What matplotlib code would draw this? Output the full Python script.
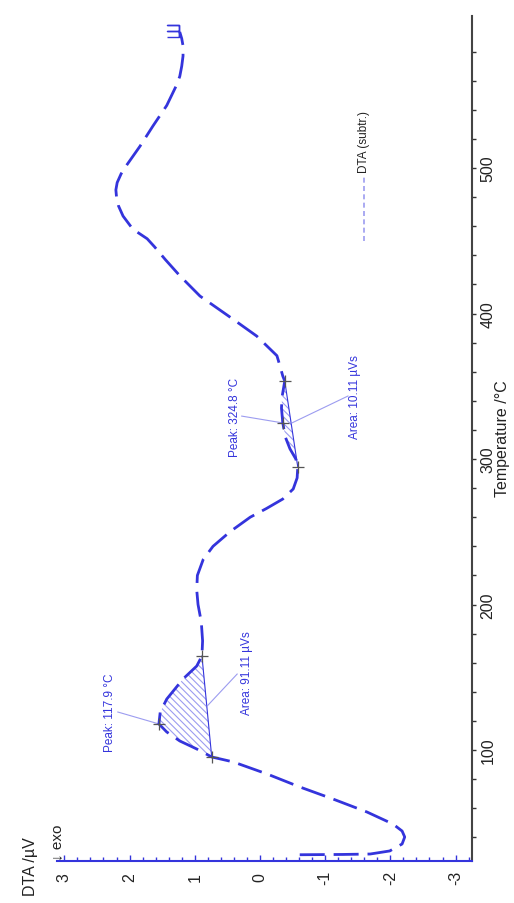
import numpy as np
import matplotlib.pyplot as plt
from matplotlib.path import Path
from matplotlib.ticker import MultipleLocator, FixedLocator

plt.rcParams['font.family'] = ['Liberation Sans', 'DejaVu Sans']
plt.rcParams['axes.unicode_minus'] = False
plt.rcParams['hatch.linewidth'] = 0.8

# DTA (subtracted) curve: temperature /°C and signal /µV
temp = [28.0, 28.2, 28.5, 30.6, 35.4, 40.2, 44.3, 49.1, 57.4, 66.3, 74.6, 83.5,
        91.8, 95.2, 100.7, 106.2, 112.4, 117.9, 126.0, 135.0, 148.8, 157.7,
        164.6, 175.0, 188.0, 200.0, 210.0, 220.0, 231.0, 240.0, 250.0, 260.0,
        266.0, 272.5, 279.4, 287.0, 294.5, 300.0, 307.0, 315.0, 324.8, 335.0,
        343.0, 353.6, 357.0, 365.0, 371.0, 384.5, 396.0, 412.0, 426.0, 437.0,
        446.0, 451.4, 458.0, 467.0, 474.0, 480.0, 485.0, 490.0, 496.0, 501.0,
        515.0, 529.0, 543.0, 556.0, 563.0, 570.0, 577.0, 584.0, 589.0, 593.5]
dta = [-0.61, -1.27, -1.69, -1.99, -2.18, -2.22, -2.18, -2.04, -1.64, -1.12,
       -0.61, -0.11, 0.41, 0.74, 0.97, 1.23, 1.43, 1.55, 1.53, 1.43, 1.18,
       0.97, 0.89, 0.88, 0.90, 0.95, 0.97, 0.96, 0.87, 0.72, 0.46, 0.15,
       -0.10, -0.35, -0.51, -0.57, -0.58, -0.55, -0.46, -0.39, -0.35, -0.33,
       -0.34, -0.38, -0.35, -0.30, -0.26, 0.05, 0.41, 0.92, 1.23, 1.45,
       1.62, 1.73, 1.95, 2.10, 2.17, 2.20, 2.21, 2.19, 2.13, 2.06,
       1.84, 1.64, 1.43, 1.29, 1.23, 1.20, 1.18, 1.18, 1.20, 1.23]

# evaluated effects: baseline limits (°C), baseline values (µV), peak
peak_limits = [[95.2, 164.6], [294.5, 353.6]]
peak_base = [[0.74, 0.89], [-0.58, -0.38]]
peak_temp = [117.9, 324.8]
peak_dta = [1.55, -0.35]
peak_area = [91.11, 10.11]

blue = '#3434dc'
light = '#9c9cf0'
grey = '#555555'

t = np.array(temp)
d = np.array(dta)

fig = plt.figure(figsize=(5.14, 9.04), dpi=100)
ax = fig.add_axes([57 / 514, 1 - 862 / 904, 415 / 514, 845 / 904])
ax.set_xlim(3.113, -3.252)
ax.set_ylim(23.7, 604.5)

ax.plot(d, t, color=blue, lw=2.0, dashes=(9, 3.2), zorder=3)

# end-of-curve marker
end_mark = Path([(1, -1), (1, 1), (-1, 1), (1, 1), (1, 0), (-1, 0), (1, 0),
                 (1, -1), (-1, -1)])
ax.plot(d[-1] + 0.1, t[-1] + 1, marker=end_mark, ms=9, mew=1.0,
        color=blue, mfc='none', zorder=4)

for (lo, hi), (b0, b1), pt, pd in zip(peak_limits, peak_base, peak_temp, peak_dta):
    seg = (t >= lo) & (t <= hi)
    base = np.interp(t[seg], [lo, hi], [b0, b1])
    ax.fill_betweenx(t[seg], d[seg], base, facecolor='none', edgecolor=light,
                     hatch='\\\\\\\\\\', linewidth=0, zorder=1)
    ax.plot([b0, b1], [lo, hi], color=blue, lw=0.8, zorder=2)
    ax.plot([b0, b1, pd], [lo, hi, pt], '+', color=grey, ms=9, mew=0.9, zorder=5)

# annotations: text position and leader end
ann_style = dict(rotation=90, ha='center', va='center', fontsize=8.5, color=blue)
ax.text(2.30, 126.1, 'Peak: %.1f °C' % peak_temp[0], **ann_style)
ax.plot([2.18, peak_dta[0]], [126.1, peak_temp[0]], color=light, lw=0.8)
ax.text(0.20, 153.6, 'Area: %.2f µVs' % peak_area[0], **ann_style)
ax.plot([0.35, 0.81], [152.2, 130.2], color=light, lw=0.8)
ax.text(0.38, 329.5, 'Peak: %.1f °C' % peak_temp[1], **ann_style)
ax.plot([0.28, peak_dta[1]], [329.5, peak_temp[1]], color=light, lw=0.8)
ax.text(-1.46, 343.3, 'Area: %.2f µVs' % peak_area[1], **ann_style)
ax.plot([-1.35, -0.49], [343.3, 324.8], color=light, lw=0.8)

# legend entry
ax.plot([-1.60, -1.60], [449.8, 494.5], color=light, lw=1.2, dashes=(3, 2))
ax.text(-1.60, 497.5, 'DTA (subtr.)', rotation=90, ha='center', va='bottom',
        fontsize=8.5, color='#222222')

for s in ['top', 'left']:
    ax.spines[s].set_visible(False)
ax.spines['bottom'].set_color(blue)
ax.spines['bottom'].set_linewidth(1.5)
ax.spines['right'].set_color('#444444')
ax.spines['right'].set_linewidth(1.5)

ax.xaxis.set_major_locator(MultipleLocator(1))
ax.xaxis.set_minor_locator(MultipleLocator(0.2))
ax.tick_params(axis='x', which='both', direction='in', color=blue, width=1.0)
ax.tick_params(axis='x', which='major', length=4, pad=11.5, labelsize=11.5,
               labelrotation=90, labelcolor='#222222')
ax.tick_params(axis='x', which='minor', length=3)
for lab in ax.get_xticklabels():
    lab.set_va('center')

ax.yaxis.tick_right()
ax.yaxis.set_major_locator(FixedLocator([100, 200, 300, 400, 500]))
ax.yaxis.set_minor_locator(FixedLocator(np.arange(40, 600, 20)))
ax.tick_params(axis='y', which='both', direction='out', color='#333333', width=1.0,
               length=3)
ax.tick_params(axis='y', which='major', pad=8.6, labelsize=11.5, labelrotation=90,
               labelcolor='#222222')
for lab in ax.get_yticklabels():
    lab.set_ha('center')
    lab.set_va('center')

fig.text(502 / 514, 1 - 439 / 904, 'Temperature /°C', rotation=90,
         ha='center', va='center', fontsize=11.5, color='#222222')
fig.text(30 / 514, 1 - 896 / 904, 'DTA /µV', rotation=90,
         ha='center', va='bottom', fontsize=11.5, color='#222222')
fig.text(57 / 514, 1 - 861 / 904, '↓ exo', rotation=90, ha='center', va='bottom',
         fontsize=11, color='#222222')

fig.savefig('out.png', dpi=100)
